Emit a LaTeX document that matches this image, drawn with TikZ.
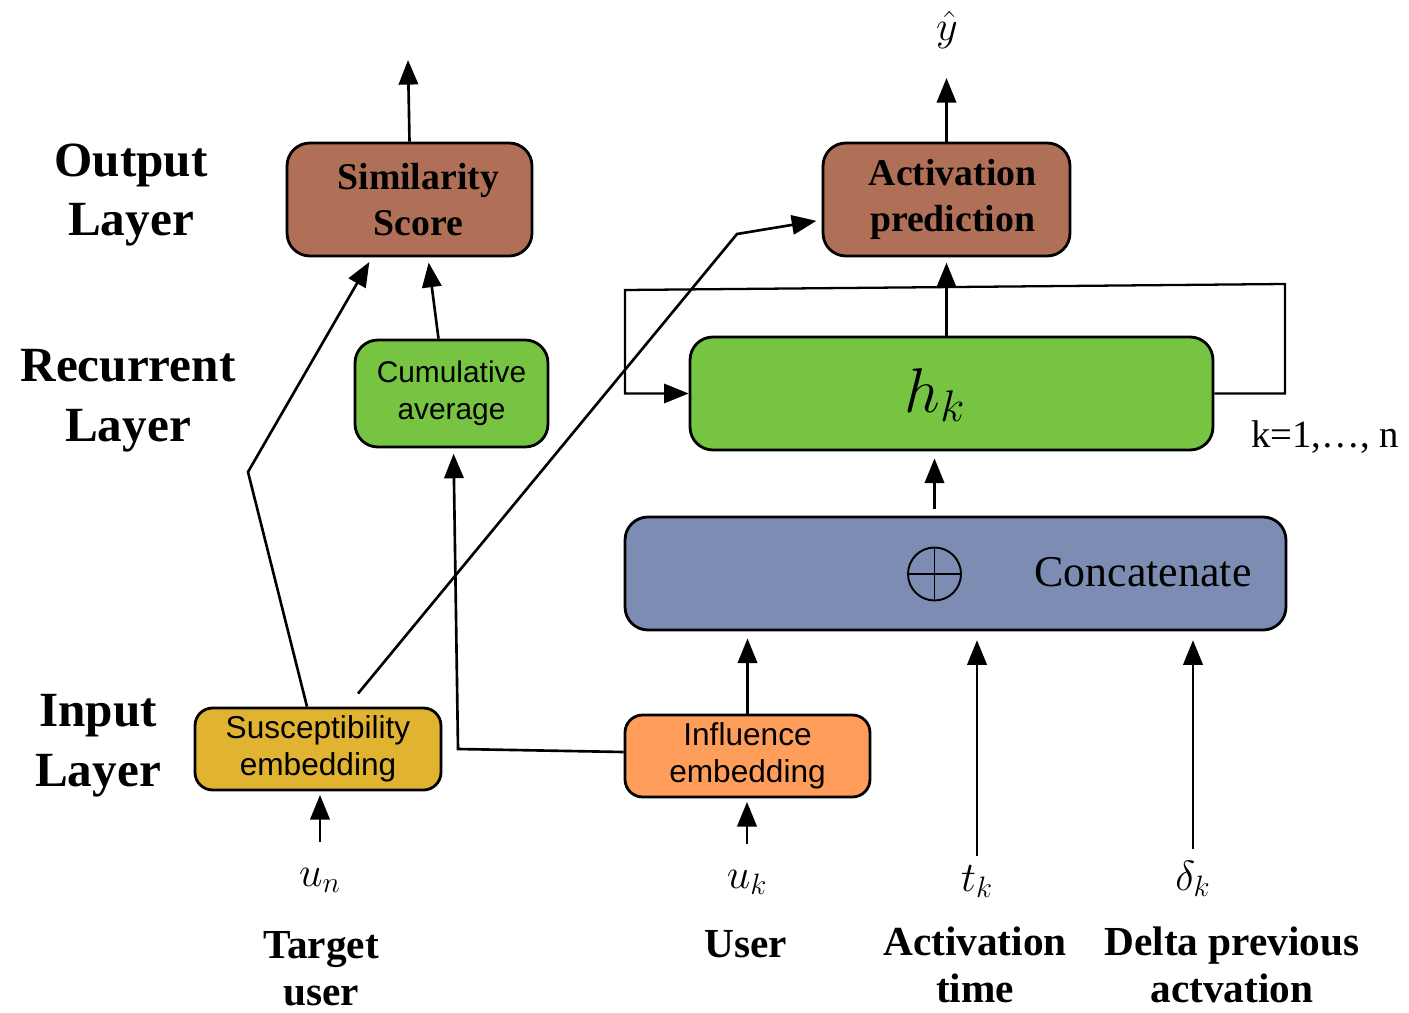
\documentclass[tikz,border=0pt]{standalone}
\usepackage{fix-cm}
\usepackage{fontspec}
\setmainfont{Liberation Serif}
\newfontfamily\sansf{Liberation Sans}
\usetikzlibrary{arrows.meta,calc}
\definecolor{brownc}{RGB}{176,112,88}
\definecolor{greenc}{RGB}{118,196,66}
\definecolor{bluec}{RGB}{125,140,178}
\definecolor{goldc}{RGB}{224,180,48}
\definecolor{orangec}{RGB}{255,158,90}
\begin{document}
\begin{tikzpicture}[x=0.02cm,y=-0.02cm,
  box/.style={draw=black, line width=1.6pt, rounded corners=13pt, inner sep=0pt, align=center},
  smallbox/.style={box, rounded corners=10pt, minimum height=1.64cm, font=\sansf\fontsize{18}{21}\selectfont},
  serifbox/.style={box, minimum height=2.26cm, font=\fontsize{21.5}{26}\selectfont\bfseries},
  arr/.style={line width=1.5pt, -{Triangle[length=14pt,width=11pt]}, shorten >=3pt},
  layer/.style={font=\fontsize{28}{34}\selectfont\bfseries, align=center, inner sep=0pt},
  btm/.style={font=\fontsize{23.5}{27}\selectfont\bfseries, align=center, inner sep=0pt},
  inl/.style={font=\fontsize{24}{28}\selectfont, inner sep=0pt, text height=11pt, text depth=4pt},
]
\fill[white] (0,0) rectangle (1409,1013);
\useasboundingbox (0,0) rectangle (1409,1013);

% layer labels
\node[layer] (lout) at (131,195) {Output\\Layer};
\node[layer] (lrec) at (128,401) {Recurrent\\Layer};
\node[layer] (lin) at (98,746) {Input\\Layer};

% boxes
\node[serifbox, fill=brownc, minimum width=4.9cm] (sim) at (409.5,199.5) {\hspace*{10pt}Similarity\\\hspace*{10pt}Score};
\node[serifbox, fill=brownc, minimum width=4.94cm] (act) at (946.5,199.5) {\hspace*{7pt}Activation\\\hspace*{7pt}prediction};
\node[box, fill=greenc, minimum width=10.46cm, minimum height=2.26cm] (hk) at (951.5,393.5) {};
\node[font=\fontsize{36}{40}\selectfont, inner sep=0pt] (hklab) at (935,395) {$h_k$};
\node[box, fill=greenc, minimum width=3.86cm, minimum height=2.14cm, font=\sansf\fontsize{17}{21}\selectfont] (cum) at (451.5,393.5) {\raisebox{-5pt}{Cumulative}\\\raisebox{-5pt}{average}};
\node[box, fill=bluec, minimum width=13.22cm, minimum height=2.26cm] (cat) at (955.5,573.5) {};
\node[circle, draw=black, line width=1.1pt, minimum size=1.06cm, inner sep=0pt] (plus) at (934.5,574) {};
\draw[line width=1.1pt] (plus.north) -- (plus.south) (plus.west) -- (plus.east);
\node[font=\fontsize{25}{30}\selectfont, inner sep=0pt] (cattxt) at (1143,572) {Concatenate};
\node[smallbox, fill=goldc, minimum width=4.92cm] (sus) at (318,749) {Susceptibility\\embedding};
\node[smallbox, fill=orangec, minimum width=4.9cm] (inf) at (747.5,756) {Influence\\embedding};

% labels
\node[font=\fontsize{24}{28}\selectfont, inner sep=0pt] (yhat) at (947,30) {$\hat{y}$};
\node[font=\fontsize{22}{26}\selectfont, inner sep=0pt] (krange) at (1325,437) {k=1,…, n};
\node[inl] (un) at (320,880) {$u_n$};
\node[inl] (uk) at (747,882) {$u_k$};
\node[inl] (tk) at (977,885) {$t_k$};
\node[inl] (dk) at (1193,884) {$\delta_k$};
\node[btm] (tuser) at (321,969) {Target\\user};
\node[btm] (user) at (746,944) {User};
\node[btm] (atime) at (975,965) {Activation\\time};
\node[btm] (dprev) at (1232,965) {Delta previous\\actvation};

% coordinates
\coordinate (simout) at (408,60);
\coordinate (actout) at (946.5,78);
\coordinate (lpR) at (1285,284);
\coordinate (lpL) at (625,290);
\coordinate (bend1) at (248,472);
\coordinate (bend2) at (737,234);
\coordinate (bend3) at (458,749);

% connectors
\draw[arr, shorten >=0pt] (sim.north) -- (simout);
\draw[arr, shorten >=0pt] (act.north) -- (actout);
\draw[arr] (act.south |- hk.north) -- (act.south);
\draw[arr, shorten >=0pt, line width=1.3pt] (hk.east) -| (lpR) -- (lpL) |- (hk.west);
\draw[arr, shorten <=4pt, shorten >=4pt] (plus |- cat.north) -- (plus |- hk.south);
\draw[arr] ($(cum.north)+(-13,0)$) -- ($(sim.south)+(18.5,0)$);
\draw[arr, line join=miter] ($(sus.north)+(-11,0)$) -- (bend1) -- ($(sim.south)+(-37.5,0)$);
\draw[arr] ($(sus.north)+(40,-13)$) -- (bend2) -- ($(act.west)+(0,20.5)$);
\draw[arr, shorten >=3pt] ($(inf.west)+(0,-4)$) -- (bend3) -- ($(cum.south)+(2,0)$);
\draw[arr, shorten >=4pt] (inf.north) -- (inf.north |- cat.south);
\draw[arr, shorten <=14pt, shorten >=2pt] (un.north) -- (un.north |- sus.south);
\draw[arr, shorten <=14pt, shorten >=2pt] (uk.north) -- (uk.north |- inf.south);
\draw[arr, shorten <=9pt, shorten >=5pt] (tk.north) -- (tk.north |- cat.south);
\draw[arr, shorten <=12pt, shorten >=5pt] (dk.north) -- (dk.north |- cat.south);
\end{tikzpicture}
\end{document}
